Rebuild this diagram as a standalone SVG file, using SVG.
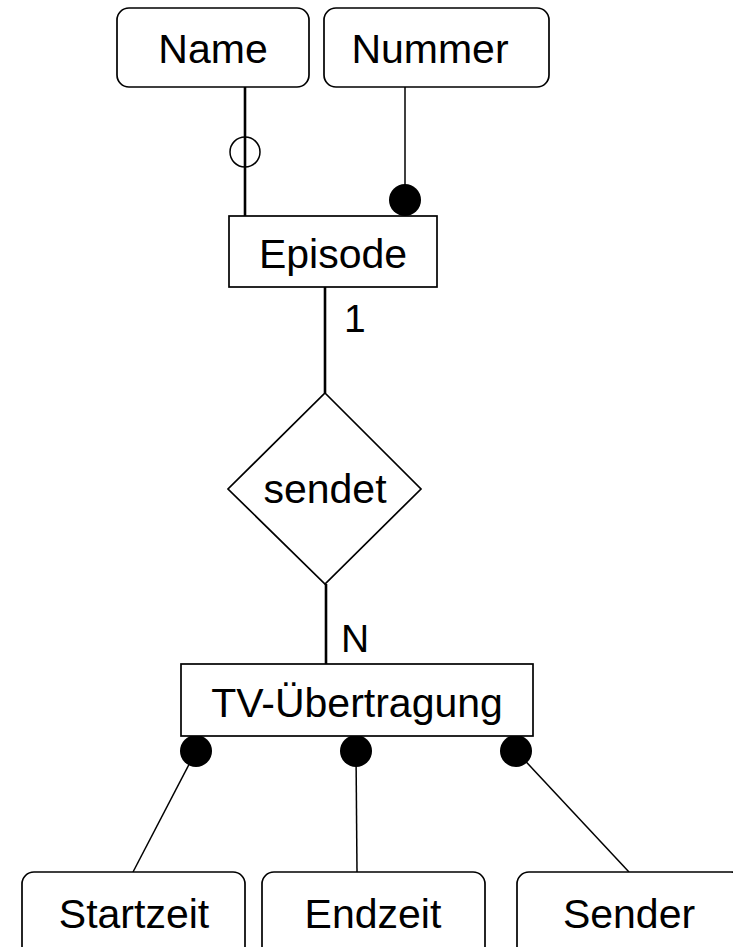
<svg xmlns="http://www.w3.org/2000/svg" width="733" height="947" viewBox="0 0 733 947">
<style>
.box{fill:#fff;stroke:#000;stroke-width:1.7}
.t{font-family:"Liberation Sans",Arial,sans-serif;font-size:41px;fill:#000;text-anchor:middle}
.lbl{font-family:"Liberation Sans",Arial,sans-serif;font-size:39px;fill:#000}
.thin{stroke:#000;stroke-width:1.5;fill:none}
.thick{stroke:#000;stroke-width:2.6;fill:none}
.dot{fill:#000}
</style>
<rect width="733" height="947" fill="#fff"/>
<g id="connectors">
<line class="thick" x1="245" y1="87" x2="245" y2="216"/>
<circle class="thin" cx="245" cy="152" r="15"/>
<line class="thin" x1="405" y1="87" x2="405" y2="200"/>
<circle class="dot" cx="405" cy="200" r="16"/>
<line class="thick" x1="325" y1="287" x2="325" y2="393"/>
<text class="lbl" x="344" y="332">1</text>
<line class="thick" x1="326" y1="584" x2="326" y2="664"/>
<text class="lbl" x="341" y="652">N</text>
<line class="thin" x1="196" y1="751" x2="133" y2="872"/>
<circle class="dot" cx="196" cy="751" r="16"/>
<line class="thin" x1="356" y1="751" x2="357" y2="872"/>
<circle class="dot" cx="356" cy="751" r="16"/>
<line class="thin" x1="516" y1="751" x2="629" y2="872"/>
<circle class="dot" cx="516" cy="751" r="16"/>
</g>
<g id="name">
<rect class="box" x="117" y="8" width="192" height="79" rx="12"/>
<text class="t" x="213" y="63">Name</text>
</g>
<g id="nummer">
<rect class="box" x="324" y="8" width="225" height="79" rx="12"/>
<text class="t" x="430" y="63">Nummer</text>
</g>
<g id="episode">
<rect class="box" x="229" y="216" width="208" height="71"/>
<text class="t" x="333" y="268">Episode</text>
</g>
<g id="sendet">
<polygon class="box" points="325,393 421,489 325,584 228,489"/>
<text class="t" x="325" y="503">sendet</text>
</g>
<g id="tv">
<rect class="box" x="181" y="664" width="352" height="72"/>
<text class="t" x="357" y="717">TV-Übertragung</text>
</g>
<g id="startzeit">
<rect class="box" x="22" y="872" width="223" height="90" rx="12"/>
<text class="t" x="134" y="928">Startzeit</text>
</g>
<g id="endzeit">
<rect class="box" x="262" y="872" width="223" height="90" rx="12"/>
<text class="t" x="373" y="928">Endzeit</text>
</g>
<g id="sender">
<rect class="box" x="517" y="872" width="226" height="90" rx="12"/>
<text class="t" x="629" y="928">Sender</text>
</g>
</svg>
